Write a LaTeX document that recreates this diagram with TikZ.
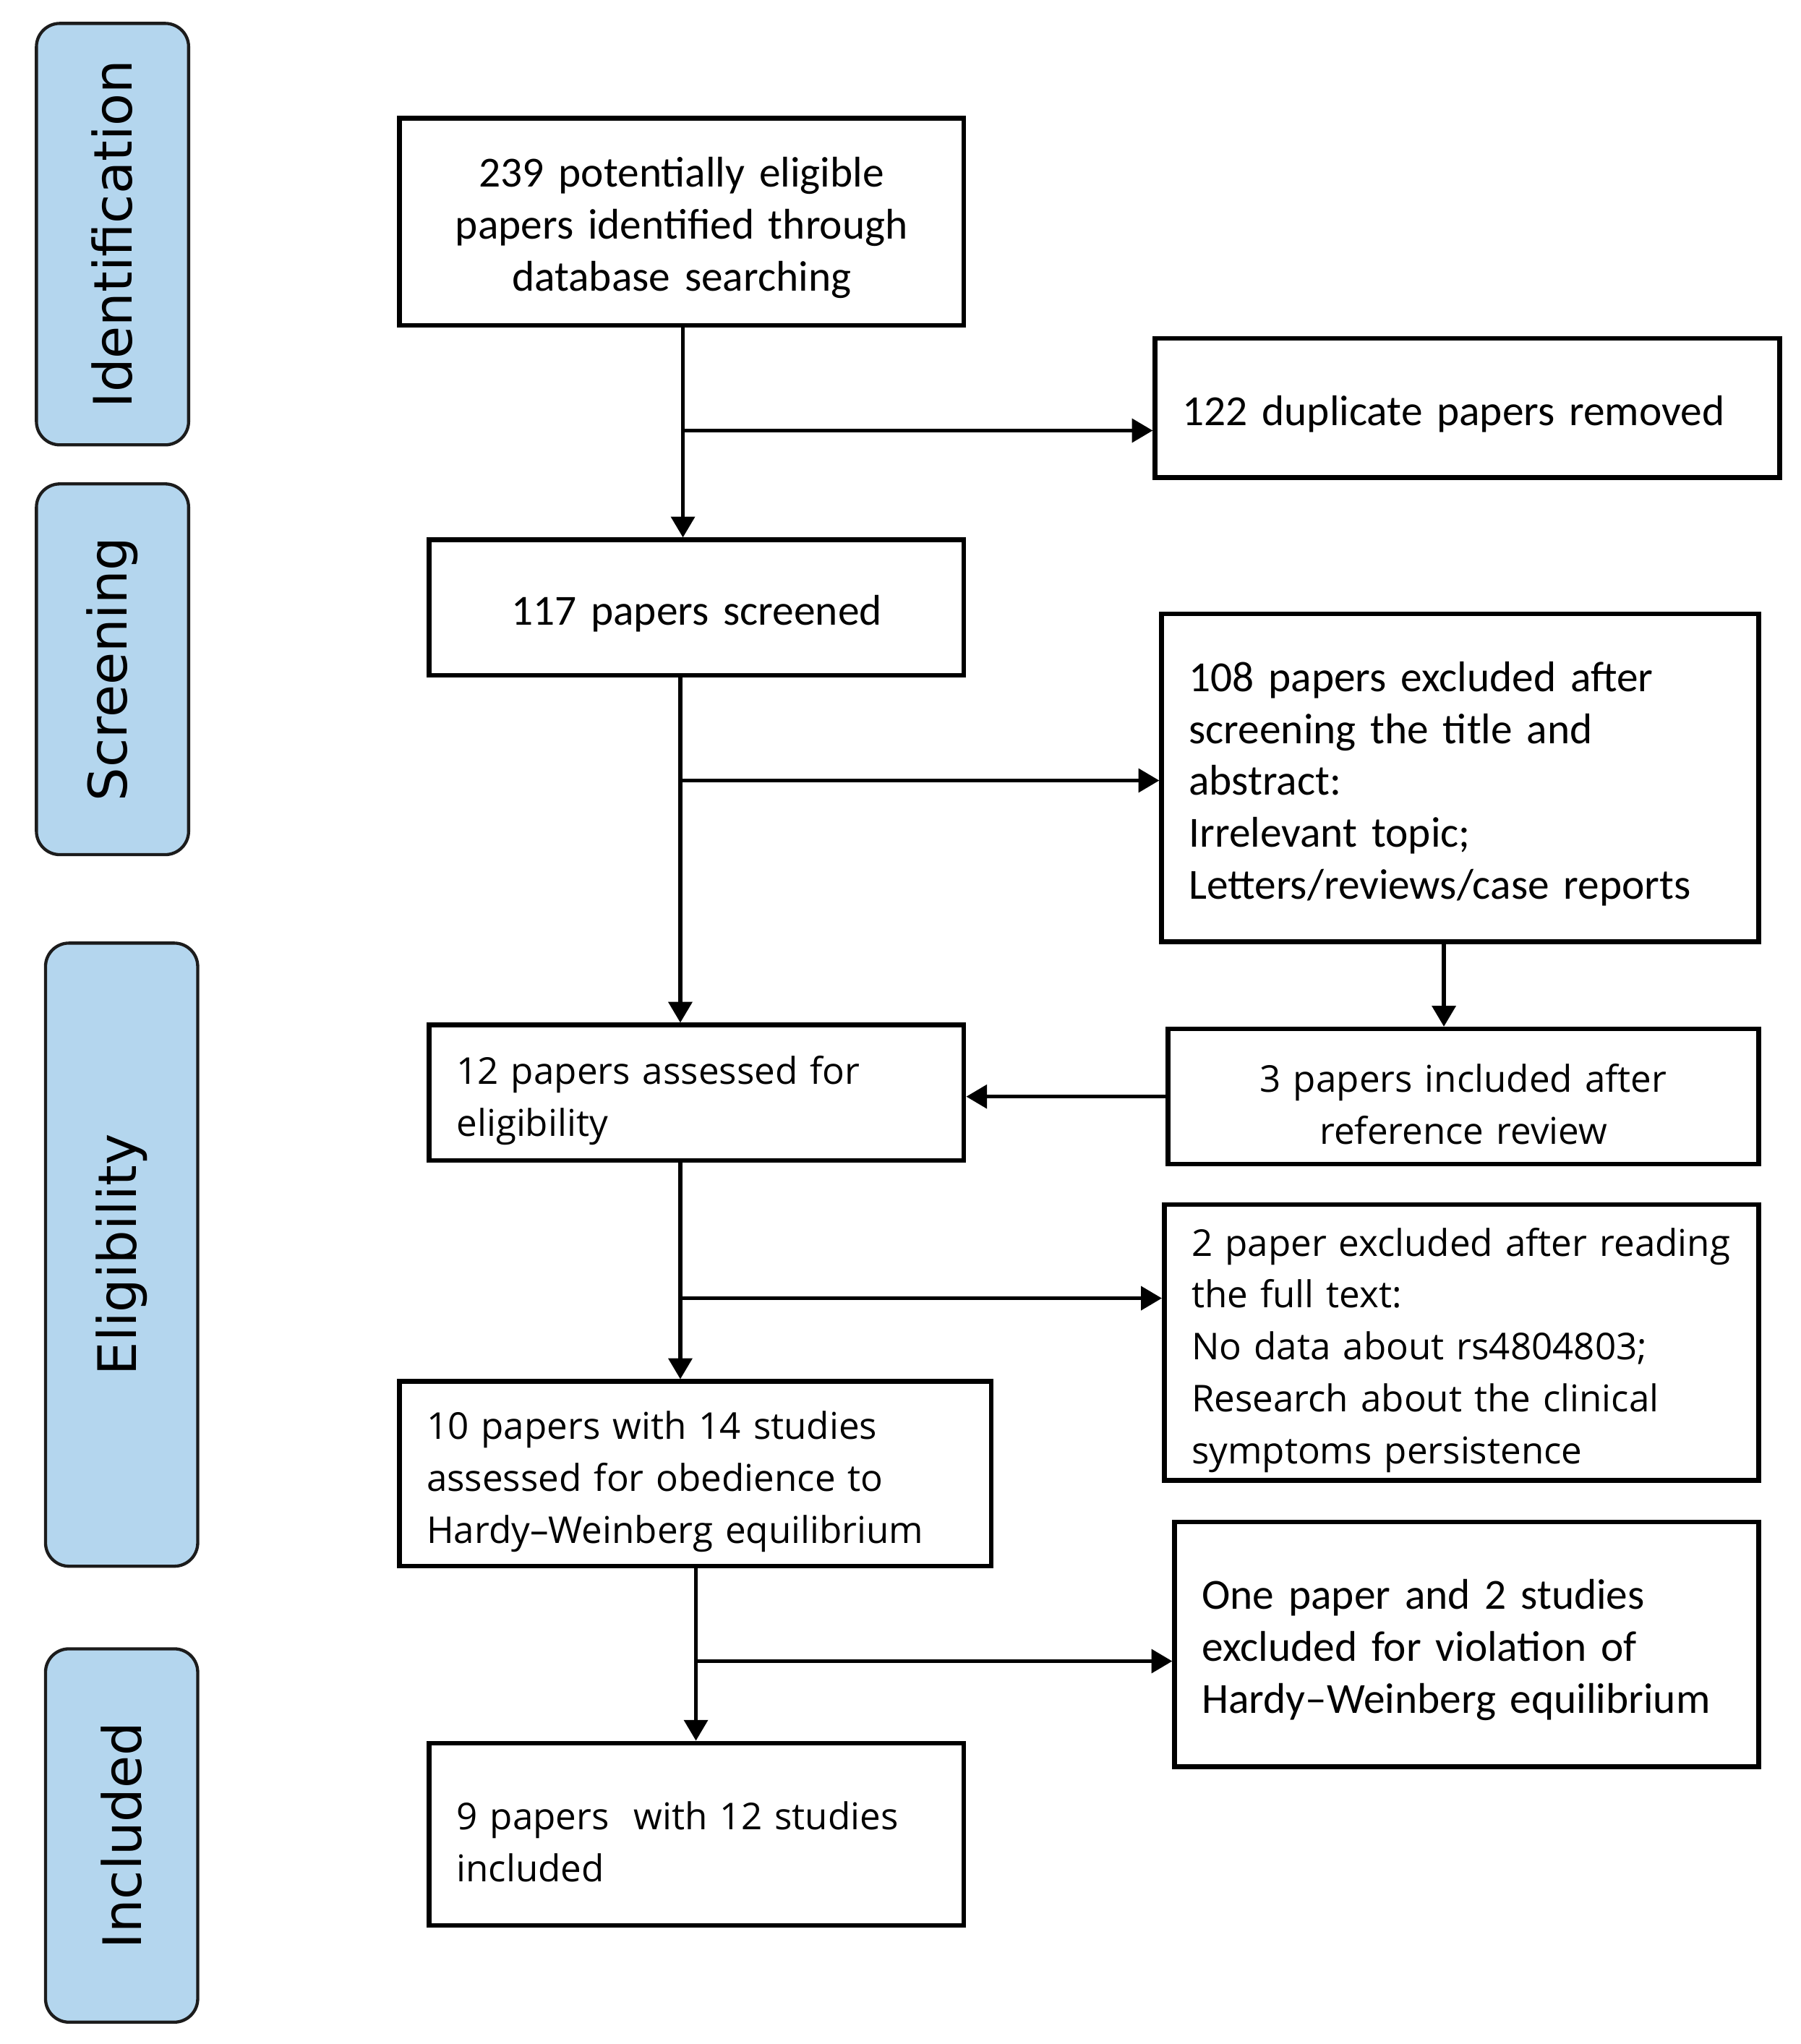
\documentclass[tikz,border=0pt]{standalone}
\usepackage{fontspec}
\setmainfont{Carlito}
\newfontfamily\segoefont{Open Sans}
\newfontfamily\pillfont{DejaVu Sans}
\usetikzlibrary{arrows.meta}
\definecolor{pillblue}{HTML}{B4D6EE}
\definecolor{pilledge}{HTML}{1C1C1C}
\newlength\mylinedrop
\newcommand\myline[1]{\raisebox{-\mylinedrop}[\height][\depth]{#1}}
\begin{document}
\begin{tikzpicture}[x=0.5pt,y=-0.5pt,
  box/.style={draw=black, line width=1.8pt, rectangle, inner xsep=10.5pt, inner ysep=0pt, align=left},
  cbox/.style={box, align=center},
  calib/.style={font={\fontsize{16.5}{20}\selectfont\setlength\mylinedrop{2.3pt}}},
  segoe/.style={font={\segoefont\fontsize{14.2}{20}\selectfont\setlength\mylinedrop{3pt}}},
  pill/.style={draw=pilledge, line width=1.2pt, fill=pillblue, rounded corners=9pt, rotate=90, inner sep=0pt, minimum height=58.5pt, font=\pillfont\fontsize{20.4}{24}\selectfont},
  arr/.style={line width=1.5pt, -{Triangle[length=8pt,width=9pt]}}
]
\useasboundingbox (0,0) rectangle (1384,1571.3);

% phase pills
\node[pill, minimum width=162pt] (pid) at (86.5,180) {Identification};
\node[pill, minimum width=142.5pt] (psc) at (86.5,514.5) {Screening};
\node[pill, minimum width=239.5pt] (pel) at (93.5,964.5) {Eligibility};
\node[pill, minimum width=143.5pt] (pin) at (93.5,1411) {Included};

% boxes
\node[cbox, calib, minimum width=217pt, minimum height=79.5pt, text width=196pt] (b1) at (524,170.5)
  {\myline{239 potentially eligible}\\\myline{papers identified through}\\\myline{database searching}};
\node[box, calib, minimum width=240pt, minimum height=53.5pt, text width=219pt] (b122) at (1128,313.5)
  {\myline{122 duplicate papers removed}};
\node[cbox, calib, minimum width=205.5pt, minimum height=52pt, text width=184.5pt] (b117) at (535.5,467)
  {\myline{117 papers screened}};
\node[box, calib, minimum width=229.5pt, minimum height=126pt, text width=208.5pt] (b108) at (1122.5,598)
  {\myline{108 papers excluded after}\\\myline{screening the title and}\\\myline{abstract:}\\\myline{Irrelevant topic;}\\\myline{Letters/reviews/case reports}};
\node[box, segoe, minimum width=205.5pt, minimum height=52pt, text width=184.5pt] (b12) at (535.5,840)
  {\myline{12 papers assessed for}\\\myline{eligibility}};
\node[cbox, segoe, minimum width=227pt, minimum height=52pt, text width=206pt] (b3) at (1125,843)
  {\myline{3 papers included after}\\\myline{reference review}};
\node[box, segoe, minimum width=228.5pt, minimum height=106pt, text width=207.5pt] (b2) at (1123.5,1032)
  {\myline{2 paper excluded after reading}\\\myline{the full text:}\\\myline{No data about rs4804803;}\\\myline{Research about the clinical}\\\myline{symptoms persistence}};
\node[box, segoe, minimum width=227.5pt, minimum height=71pt, text width=206.5pt] (b10) at (534.5,1133)
  {\myline{10 papers with 14 studies}\\\myline{assessed for obedience to}\\\myline{Hardy–Weinberg equilibrium}};
\node[box, calib, minimum width=224.5pt, minimum height=94pt, text width=203.5pt] (bone) at (1127.5,1264)
  {\myline{One paper and 2 studies}\\\myline{excluded for violation of}\\\myline{Hardy–Weinberg equilibrium}};
\node[box, segoe, minimum width=205.5pt, minimum height=70pt, text width=184.5pt] (b9) at (535.5,1410)
  {\myline{9 papers\ \ with 12 studies}\\\myline{included}};

% branch points
\coordinate (j1) at (525,331);
\coordinate (j2) at (523,600);
\coordinate (j3) at (1110,760);
\coordinate (j4) at (523,998);
\coordinate (j5) at (535,1277);

% connectors
\draw[arr] (b1.south -| j1) -- (b117.north -| j1);
\draw[arr] (j1) -- (j1 -| b122.west);
\draw[arr] (b117.south -| j2) -- (b12.north -| j2);
\draw[arr] (j2) -- (j2 -| b108.west);
\draw[arr] (b108.south -| j3) -- (b3.north -| j3);
\draw[arr] (b3.west) -- (b3.west -| b12.east);
\draw[arr] (b12.south -| j4) -- (b10.north -| j4);
\draw[arr] (j4) -- (j4 -| b2.west);
\draw[arr] (b10.south -| j5) -- (b9.north -| j5);
\draw[arr] (j5) -- (j5 -| bone.west);
\end{tikzpicture}
\end{document}
